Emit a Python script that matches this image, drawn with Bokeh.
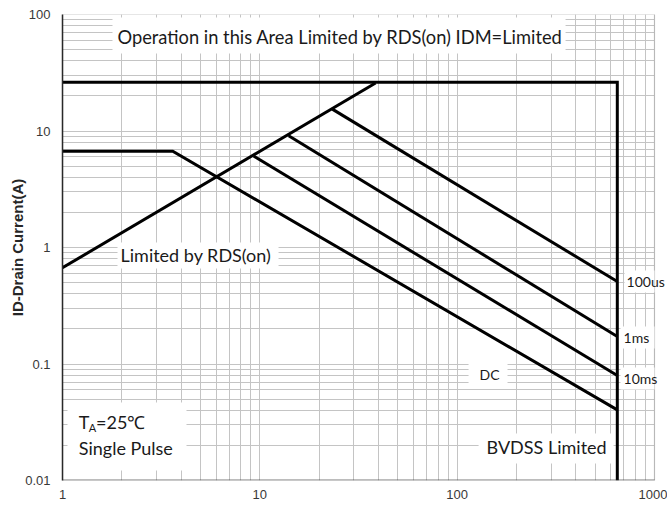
import math
from bokeh.plotting import figure
from bokeh.models import FixedTicker, CustomJSTickFormatter, Label, BoxAnnotation, Range1d
from bokeh.embed import file_html
from bokeh.resources import INLINE

# ---- data ----
x_ticks = [1, 10, 100, 1000]
x_labels = ["1", "10", "100", "1000"]
y_ticks = [0.01, 0.1, 1, 10, 100]
y_labels = ["0.01", "0.1", "1", "10", "100"]

# IDM limit + BVDSS limit (one outline)
limit_x = [1, 648, 648]
limit_y = [26.2, 26.2, 0.01]
# RDS(on) limit
rds_x = [1, 38.6]
rds_y = [0.67, 25.8]
# DC
dc_x = [1, 3.62, 648]
dc_y = [6.7, 6.7, 0.0404]
# 10 ms
ms10_x = [9.3, 648]
ms10_y = [6.1, 0.0796]
# 1 ms
ms1_x = [14.0, 648]
ms1_y = [9.1, 0.172]
# 100 us
us100_x = [23.3, 648]
us100_y = [15.4, 0.51]

FONT = "Lato"
AXFONT = "Liberation Sans"

X_END = 1164  # extra room right of 1000 for the curve labels
p = figure(width=667, height=510, x_axis_type="log", y_axis_type="log",
           x_range=Range1d(1, X_END), y_range=Range1d(0.01, 100),
           output_backend="svg", toolbar_location=None,
           min_border_left=62, min_border_right=0, min_border_top=14, min_border_bottom=30)

minor_x = [k * 10 ** d for d in range(0, 3) for k in range(2, 10)]
minor_y = [k * 10.0 ** d for d in range(-2, 2) for k in range(2, 10)]
p.xaxis.ticker = FixedTicker(ticks=x_ticks, minor_ticks=minor_x)
p.yaxis.ticker = FixedTicker(ticks=y_ticks, minor_ticks=minor_y)

fmt_code = """
let best = -1, d = Infinity;
for (let i = 0; i < tv.length; i++) {
  const e = Math.abs(Math.log10(tv[i]) - Math.log10(tick));
  if (e < d) { d = e; best = i; }
}
return d < 1e-6 ? tl[best] : "";
"""
p.xaxis.formatter = CustomJSTickFormatter(args=dict(tv=x_ticks, tl=x_labels), code=fmt_code)
p.yaxis.formatter = CustomJSTickFormatter(args=dict(tv=y_ticks, tl=y_labels), code=fmt_code)

for ax in (p.xaxis, p.yaxis):
    ax.major_tick_in = 0
    ax.major_tick_out = 0
    ax.minor_tick_in = 0
    ax.minor_tick_out = 0
    ax.major_label_text_font = AXFONT
    ax.major_label_text_font_size = "13px"
    ax.major_label_text_color = "#383838"
p.yaxis.axis_line_color = "#222222"
p.yaxis.axis_line_width = 1.5
p.xaxis.axis_line_color = None
p.xaxis.major_label_standoff = 9
p.yaxis.major_label_standoff = 12

p.yaxis.axis_label = "ID-Drain Current(A)"
p.yaxis.axis_label_text_font = AXFONT
p.yaxis.axis_label_text_font_style = "bold"
p.yaxis.axis_label_text_font_size = "15px"
p.yaxis.axis_label_text_color = "#262626"
p.yaxis.axis_label_standoff = -4

for g in (p.xgrid, p.ygrid):
    g.grid_line_color = "#c4c4c4"
    g.grid_line_width = 1
    g.minor_grid_line_color = "#c4c4c4"
    g.minor_grid_line_width = 1

p.outline_line_color = None
p.background_fill_color = "white"
p.border_fill_color = "white"

# blank strip right of the chart area (x > 1000)
p.add_layout(BoxAnnotation(left=1000, fill_color="white", fill_alpha=1, line_color=None))
# chart area border and bottom axis line
p.add_layout(BoxAnnotation(left=1, right=1000, bottom=0.01, top=100, fill_color=None,
                           line_color="#555555", line_width=1.2))
p.add_layout(BoxAnnotation(left=1, right=1000, bottom=0.01, top=0.01, fill_color=None,
                           line_color="#222222", line_width=3))

# white boxes behind texts
boxes = [
    (1.792, 354.3, 94.2, 46.3),
    (1.90, 12.44, 1.104, 0.660),
    (1.060, 4.25, 0.0467, 0.01219),
    (128.4, 620.3, 0.0253, 0.0140),
    (114.2, 180.0, 0.1030, 0.0667),
    (705, 1000, 0.635, 0.411),
    (673, 1000, 0.210, 0.136),
    (673, 1000, 0.0933, 0.0604),
]
for l, r, t, b in boxes:
    p.add_layout(BoxAnnotation(left=l, right=r, top=t, bottom=b, fill_color="white",
                               fill_alpha=1, line_color=None))

for xs, ys in [(limit_x, limit_y), (rds_x, rds_y), (dc_x, dc_y), (ms10_x, ms10_y),
               (ms1_x, ms1_y), (us100_x, us100_y)]:
    p.line(xs, ys, line_width=3, line_color="black", line_join="miter")

def lab(x, y, text, size="18px", **kw):
    p.add_layout(Label(x=x, y=y, text=text, text_font=FONT, text_font_size=size,
                       text_color="#1a1a1a", text_baseline="middle", text_align="left", **kw))

lab(1.90, 63.7, "Operation in this Area Limited by RDS(on) IDM=Limited", size="18.3px")
lab(1.968, 0.854, "Limited by RDS(on)")
lab(1.209, 0.0318, "T")
lab(1.359, 0.02825, "A", size="11px")
lab(1.479, 0.0318, "=25℃")
lab(1.209, 0.01883, "Single Pulse")
lab(140.9, 0.0192, "BVDSS Limited")
lab(722.3, 0.511, "100us", size="14px")
lab(697.3, 0.1689, "1ms", size="14px")
lab(697.3, 0.0751, "10ms", size="14px")
lab(129.9, 0.0813, "DC", size="14px")

open("out.html", "w").write(file_html(p, INLINE))
